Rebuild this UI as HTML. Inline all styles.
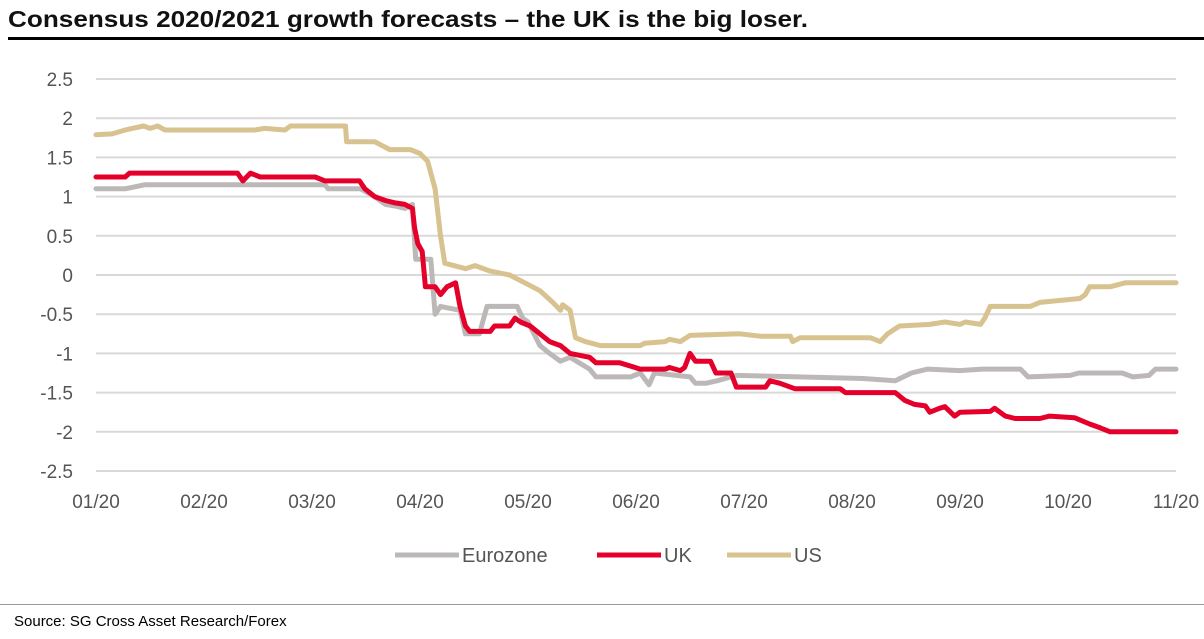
<!DOCTYPE html>
<html><head><meta charset="utf-8"><style>
body{margin:0;background:#fff;font-family:"Liberation Sans",Arial,sans-serif;}
#wrap{position:relative;width:1204px;height:639px;overflow:hidden;}
</style></head><body>
<div id="wrap">
<svg id="chart" width="1204" height="639" xmlns="http://www.w3.org/2000/svg">
<text x="8" y="27" font-size="23" font-weight="bold" textLength="800" lengthAdjust="spacingAndGlyphs" font-family="Liberation Sans, Arial, sans-serif" fill="#111">Consensus 2020/2021 growth forecasts – the UK is the big loser.</text>
<line x1="8" y1="38.5" x2="1204" y2="38.5" stroke="#000" stroke-width="3"/>
<g id="grid"></g>
<g id="yticks"></g>
<g id="xticks"></g>
<g id="series"></g>
<g id="legend"></g>
<line x1="0" y1="604.5" x2="1204" y2="604.5" stroke="#999" stroke-width="1"/>
<text x="14" y="626" font-size="15" fill="#000">Source: SG Cross Asset Research/Forex</text>
</svg>
</div>
<script>
const yTickLabels=["2.5","2","1.5","1","0.5","0","-0.5","-1","-1.5","-2","-2.5"];
const yTickValues=[2.5,2,1.5,1,0.5,0,-0.5,-1,-1.5,-2,-2.5];
const xTickLabels=["01/20","02/20","03/20","04/20","05/20","06/20","07/20","08/20","09/20","10/20","11/20"];
const seriesNames=["Eurozone","UK","US"];
const seriesColors=["#bdb8b8","#e4002b","#d7c290"];
const euMonths=[0,0.27,0.45,2.12,2.15,2.45,2.58,2.68,2.77,2.86,2.93,2.96,3.1,3.14,3.19,3.37,3.42,3.55,3.62,3.9,3.95,4.0,4.11,4.2,4.3,4.39,4.57,4.63,4.95,5.04,5.12,5.17,5.5,5.55,5.65,5.75,5.93,6.5,7.1,7.4,7.55,7.7,8.0,8.2,8.56,8.63,9.02,9.1,9.5,9.6,9.75,9.81,10];
const euValues=[1.1,1.1,1.15,1.15,1.1,1.1,1.0,0.9,0.88,0.85,0.9,0.2,0.2,-0.5,-0.4,-0.45,-0.75,-0.75,-0.4,-0.4,-0.55,-0.6,-0.9,-1.0,-1.1,-1.05,-1.2,-1.3,-1.3,-1.25,-1.4,-1.25,-1.3,-1.38,-1.38,-1.35,-1.28,-1.3,-1.32,-1.35,-1.25,-1.2,-1.22,-1.2,-1.2,-1.3,-1.28,-1.25,-1.25,-1.3,-1.28,-1.2,-1.2];
const ukMonths=[0,0.27,0.31,1.31,1.36,1.43,1.52,2.03,2.12,2.44,2.49,2.58,2.68,2.77,2.86,2.93,2.95,2.98,3.02,3.05,3.14,3.19,3.25,3.33,3.37,3.42,3.46,3.65,3.69,3.83,3.88,3.93,4.02,4.11,4.2,4.3,4.39,4.57,4.63,4.85,5.04,5.27,5.31,5.41,5.45,5.5,5.55,5.69,5.74,5.88,5.93,6.2,6.24,6.33,6.47,6.89,6.94,7.4,7.49,7.58,7.68,7.72,7.81,7.86,7.95,8.0,8.28,8.32,8.42,8.51,8.74,8.83,9.06,9.2,9.3,9.39,10];
const ukValues=[1.25,1.25,1.3,1.3,1.2,1.3,1.25,1.25,1.2,1.2,1.1,1.0,0.95,0.92,0.9,0.85,0.6,0.4,0.3,-0.15,-0.15,-0.25,-0.15,-0.1,-0.4,-0.65,-0.72,-0.72,-0.65,-0.65,-0.55,-0.6,-0.65,-0.75,-0.85,-0.9,-1.0,-1.05,-1.12,-1.12,-1.2,-1.2,-1.18,-1.22,-1.18,-1.0,-1.1,-1.1,-1.25,-1.25,-1.43,-1.43,-1.35,-1.38,-1.45,-1.45,-1.5,-1.5,-1.6,-1.65,-1.67,-1.75,-1.7,-1.68,-1.8,-1.75,-1.74,-1.7,-1.8,-1.83,-1.83,-1.8,-1.82,-1.9,-1.95,-2.0,-2.0];
const usMonths=[0,0.15,0.27,0.44,0.5,0.57,0.64,1.47,1.56,1.75,1.8,2.31,2.32,2.58,2.72,2.91,3.0,3.07,3.14,3.19,3.23,3.37,3.42,3.51,3.65,3.83,3.97,4.11,4.23,4.3,4.32,4.39,4.44,4.53,4.67,5.04,5.08,5.27,5.31,5.41,5.5,5.96,6.15,6.43,6.45,6.52,7.17,7.26,7.33,7.44,7.72,7.86,8.0,8.05,8.19,8.23,8.28,8.65,8.74,9.11,9.16,9.2,9.39,9.53,10];
const usValues=[1.79,1.8,1.85,1.9,1.87,1.9,1.85,1.85,1.87,1.85,1.9,1.9,1.7,1.7,1.6,1.6,1.55,1.45,1.1,0.5,0.15,0.1,0.08,0.12,0.05,0,-0.1,-0.2,-0.35,-0.45,-0.38,-0.45,-0.8,-0.85,-0.9,-0.9,-0.87,-0.85,-0.82,-0.85,-0.77,-0.75,-0.78,-0.78,-0.85,-0.8,-0.8,-0.85,-0.75,-0.65,-0.63,-0.6,-0.63,-0.6,-0.63,-0.55,-0.4,-0.4,-0.35,-0.3,-0.25,-0.15,-0.15,-0.1,-0.1];

const NS="http://www.w3.org/2000/svg";
const X0=96,X1=1176,Y0=275,YS=78.4;
function xScale(m){return X0+m*(X1-X0)/10;}
function yScale(v){return Y0-v*YS;}
function mk(tag,attrs,parent){const e=document.createElementNS(NS,tag);for(const k in attrs)e.setAttribute(k,attrs[k]);parent.appendChild(e);return e;}
const grid=document.getElementById('grid'),yt=document.getElementById('yticks'),xt=document.getElementById('xticks'),ser=document.getElementById('series'),leg=document.getElementById('legend');
yTickValues.forEach((v,i)=>{
  const y=yScale(v);
  const g=mk('line',{x1:X0,x2:X1,y1:y,y2:y,stroke:'#d9d9d9','stroke-width':2},grid);
  
  
  const t=mk('text',{x:73,y:y+7,'font-size':19,'text-anchor':'end',fill:'#555'},yt);
  t.textContent=yTickLabels[i];
  
  
});
xTickLabels.forEach((l,i)=>{
  const t=mk('text',{x:xScale(i),y:508,'font-size':19,'text-anchor':'middle',fill:'#555'},xt);
  t.textContent=l;
  
  
});
const allM=[euMonths,ukMonths,usMonths],allV=[euValues,ukValues,usValues];
allM.forEach((ms,s)=>{
  const pts=ms.map((m,i)=>xScale(m).toFixed(1)+','+yScale(allV[s][i]).toFixed(1)).join(' ');
  const p=mk('polyline',{points:pts,fill:'none',stroke:seriesColors[s],'stroke-width':5,'stroke-linejoin':'round','stroke-linecap':'round'},ser);
  
  
});
const legX=[395,597,727];
seriesNames.forEach((n,i)=>{
  const l=mk('line',{x1:legX[i],x2:legX[i]+64,y1:555,y2:555,stroke:seriesColors[i],'stroke-width':5},leg);
  
  
  const t=mk('text',{x:legX[i]+67,y:562,'font-size':20,fill:'#555'},leg);
  t.textContent=n;
  
  
});
</script>
</body></html>
